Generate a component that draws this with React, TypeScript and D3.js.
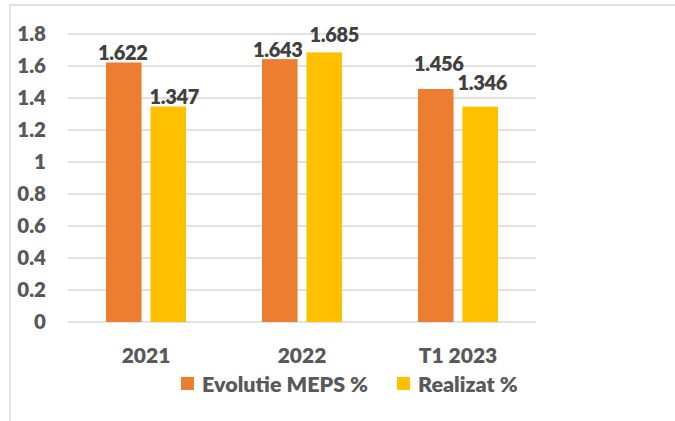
import React, { useRef, useEffect } from 'react';
import * as d3 from 'd3';

// Data
const categories = ['2021', '2022', 'T1 2023'];
const seriesNames = ['Evolutie MEPS %', 'Realizat %'];
const meps = [1.622, 1.643, 1.456];
const realizat = [1.347, 1.685, 1.346];
const yTicks = [0, 0.2, 0.4, 0.6, 0.8, 1, 1.2, 1.4, 1.6, 1.8];
const colors = ['#ED7D31', '#FFC000'];

// labels were dragged by hand in the original, so each one gets a small nudge [dx, dy]
const labelNudge = [
  [[-1, 0], [6, 0]],
  [[-2, 0], [10, -8]],
  [[3, -16], [2, -15]],
];

const App = () => {
  const svgRef = useRef<SVGSVGElement | null>(null);

  useEffect(() => {
    const width = 675;
    const height = 421;
    const plot = { left: 68, right: 536, top: 34, bottom: 322 };
    const font = 'Lato, "Open Sans", sans-serif';
    const weight = 800;

    const svg = d3.select(svgRef.current)
      .attr('width', width)
      .attr('height', height);
    svg.selectAll('*').remove();

    // Scales
    const x0 = d3.scaleBand<string>()
      .domain(categories)
      .range([plot.left, plot.right]);

    const groupWidth = 80;
    const x1 = d3.scaleBand<string>()
      .domain(seriesNames)
      .range([0, groupWidth])
      .paddingInner(0.2);

    const y = d3.scaleLinear()
      .domain([0, 1.8])
      .range([plot.bottom, plot.top]);

    // chart border (cropped)
    svg.append('rect')
      .attr('x', 10)
      .attr('y', 5)
      .attr('width', width + 20)
      .attr('height', height + 20)
      .attr('fill', '#fff')
      .attr('stroke', '#d9d9d9')
      .attr('stroke-width', 1.5);

    // grid lines
    svg.append('g')
      .selectAll('line')
      .data(yTicks)
      .enter()
      .append('line')
      .attr('x1', plot.left)
      .attr('x2', plot.right)
      .attr('y1', d => y(d))
      .attr('y2', d => y(d))
      .attr('stroke', '#d9d9d9')
      .attr('stroke-width', 1.5);

    // y tick labels
    svg.append('g')
      .selectAll('text')
      .data(yTicks)
      .enter()
      .append('text')
      .attr('x', 46)
      .attr('y', d => y(d))
      .attr('dy', '0.36em')
      .attr('text-anchor', 'end')
      .attr('font-family', font)
      .attr('font-weight', weight)
      .attr('font-size', 20.5)
      .attr('fill', '#595959')
      .text(d => String(d));

    // bars
    const rows = categories.map((c, i) => ({ cat: c, i, values: [meps[i], realizat[i]] }));
    const groups = svg.append('g')
      .selectAll('g')
      .data(rows)
      .enter()
      .append('g')
      .attr('transform', d => `translate(${(x0(d.cat) ?? 0) + (x0.bandwidth() - groupWidth) / 2},0)`);

    groups.selectAll('rect')
      .data(d => d.values.map((v, k) => ({ v, k })))
      .enter()
      .append('rect')
      .attr('x', d => x1(seriesNames[d.k]) ?? 0)
      .attr('y', d => y(d.v))
      .attr('width', x1.bandwidth())
      .attr('height', d => y(0) - y(d.v))
      .attr('fill', d => colors[d.k]);

    // data labels
    groups.selectAll('text')
      .data(d => d.values.map((v, k) => ({ v, k, i: d.i })))
      .enter()
      .append('text')
      .attr('x', d => (x1(seriesNames[d.k]) ?? 0) + x1.bandwidth() / 2 + labelNudge[d.i][d.k][0])
      .attr('y', d => y(d.v) - 2 + labelNudge[d.i][d.k][1])
      .attr('text-anchor', 'middle')
      .attr('font-family', font)
      .attr('font-weight', weight)
      .attr('font-size', 20)
      .attr('letter-spacing', -0.3)
      .attr('fill', '#404040')
      .text(d => d3.format('.3f')(d.v));

    // category labels
    svg.append('g')
      .selectAll('text')
      .data(categories)
      .enter()
      .append('text')
      .attr('x', d => (x0(d) ?? 0) + x0.bandwidth() / 2)
      .attr('y', 363)
      .attr('text-anchor', 'middle')
      .attr('font-family', font)
      .attr('font-weight', weight)
      .attr('font-size', 21)
      .attr('fill', '#595959')
      .text(d => d);

    // legend
    const legendX = [181, 397];
    const legend = svg.append('g')
      .selectAll('g')
      .data(seriesNames)
      .enter()
      .append('g')
      .attr('transform', (d, i) => `translate(${legendX[i]},377)`);

    legend.append('rect')
      .attr('width', 13)
      .attr('height', 13)
      .attr('fill', (d, i) => colors[i]);

    legend.append('text')
      .attr('x', 21)
      .attr('y', 15)
      .attr('font-family', font)
      .attr('font-weight', weight)
      .attr('font-size', 21.5)
      .attr('fill', '#595959')
      .text(d => d);
  }, []);

  return (
    <svg ref={svgRef} style={{ position: 'absolute', left: 0, top: 0 }}></svg>
  );
};

export default App;
